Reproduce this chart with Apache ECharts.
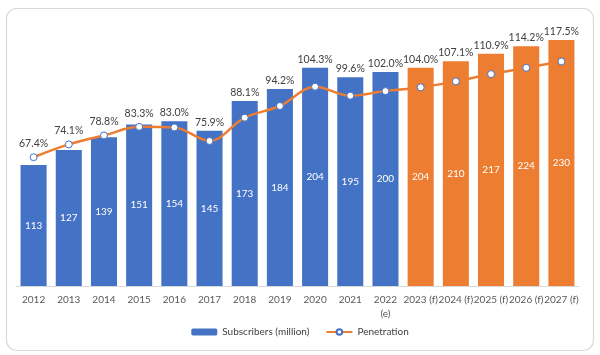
<!DOCTYPE html>
<html>
<head>
<meta charset="utf-8">
<script src="https://cdn.jsdelivr.net/npm/echarts@6/dist/echarts.min.js"></script>
<style>
html,body{margin:0;padding:0;background:#fff;}
#c{width:600px;height:355px;}
</style>
</head>
<body>
<div id="c"></div>
<script>
const years = ['2012','2013','2014','2015','2016','2017','2018','2019','2020','2021','2022\n(e)','2023 (f)','2024 (f)','2025 (f)','2026 (f)','2027 (f)'];
const subscribers = [113,127,139,151,154,145,173,184,204,195,200,204,210,217,224,230];
const penetration = [67.4,74.1,78.8,83.3,83.0,75.9,88.1,94.2,104.3,99.6,102.0,104.0,107.1,110.9,114.2,117.5];

const BLUE = '#4472C4', ORANGE = '#ED7D31';
const FONT = 'Lato, "Liberation Sans", sans-serif';

const chart = echarts.init(document.getElementById('c'), null, {renderer:'canvas'});
const labelStyle = {show:true, position:'top', distance:3, color:'#404040', fontSize:10.5, fontFamily:FONT,
  formatter:(p)=>penetration[p.dataIndex].toFixed(1)+'%'};
chart.setOption({
  animation:false,
  textStyle:{fontFamily:FONT},
  graphic:[{
    type:'rect', left:4, top:6, shape:{width:587, height:342, r:10},
    style:{fill:'none', stroke:'#d9d9d9', lineWidth:1.2}, z:-10
  }],
  grid:{left:16, right:21, top:18.5, bottom:69},
  legend:{
    data:['Subscribers (million)','Penetration'],
    bottom:13, left:'center', itemGap:16, itemWidth:26, itemHeight:7,
    textStyle:{fontSize:10, color:'#404040', fontFamily:FONT}
  },
  xAxis:{
    type:'category', data:years,
    axisTick:{show:false},
    axisLine:{lineStyle:{color:'#d9d9d9'}},
    axisLabel:{interval:0, fontSize:10, color:'#595959', margin:7, lineHeight:14, fontFamily:FONT}
  },
  yAxis:[
    {type:'value', min:0, max:250, show:false, splitLine:{show:false}},
    {type:'value', min:0, max:140, show:false, splitLine:{show:false}}
  ],
  series:[
    {
      name:'Subscribers (million)', type:'bar', barCategoryGap:'26%',
      itemStyle:{color:BLUE},
      data:subscribers.map((v,i)=>({value:v, itemStyle:{color: years[i].indexOf('(f)')>=0 ? ORANGE : BLUE}})),
      label:{show:true, position:'inside', color:'#fff', fontSize:10, fontFamily:FONT}
    },
    {
      name:'pctLabels', type:'bar', barGap:'-100%', barCategoryGap:'26%', silent:true, z:10,
      itemStyle:{color:'rgba(0,0,0,0)'},
      data:subscribers,
      label:labelStyle
    },
    {
      name:'Penetration', type:'line', yAxisIndex:1, smooth:0.35,
      data:penetration, z:5,
      symbol:'circle', symbolSize:7,
      lineStyle:{color:ORANGE, width:2.5},
      itemStyle:{color:'#fff', borderColor:BLUE, borderWidth:1}
    }
  ]
});
// lift a percentage label above the line marker when the marker sits near the bar top
const lifted = subscribers.map((v,i)=>{
  const barTop = chart.convertToPixel({seriesIndex:0}, [i, v])[1];
  const pointY = chart.convertToPixel({seriesIndex:2}, [i, penetration[i]])[1];
  const off = Math.min(0, (pointY - 14) - (barTop - 9));
  return {value:v, label:{offset:[0, off]}};
});
chart.setOption({series:[{}, {data:lifted}, {}]});
</script>
</body>
</html>
